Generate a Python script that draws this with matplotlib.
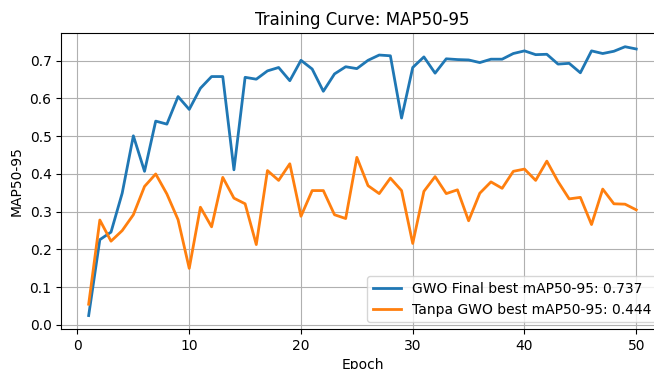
import numpy as np
import matplotlib
matplotlib.use("Agg")
import matplotlib.pyplot as plt

# epochs and per-epoch mAP50-95
epochs = np.arange(1, 51)

gwo_map = [0.025, 0.226, 0.246, 0.349, 0.501, 0.407, 0.540, 0.532, 0.605, 0.571,
           0.627, 0.658, 0.658, 0.411, 0.656, 0.651, 0.673, 0.682, 0.647, 0.701,
           0.678, 0.619, 0.665, 0.684, 0.679, 0.701, 0.715, 0.713, 0.548, 0.682,
           0.710, 0.667, 0.705, 0.703, 0.702, 0.695, 0.704, 0.704, 0.719, 0.726,
           0.716, 0.717, 0.691, 0.693, 0.668, 0.726, 0.719, 0.725, 0.737, 0.731]

tanpa_map = [0.055, 0.278, 0.222, 0.250, 0.292, 0.367, 0.400, 0.347, 0.279, 0.150,
             0.312, 0.260, 0.391, 0.336, 0.321, 0.213, 0.409, 0.383, 0.427, 0.288,
             0.356, 0.356, 0.292, 0.282, 0.444, 0.369, 0.348, 0.389, 0.356, 0.216,
             0.354, 0.393, 0.348, 0.358, 0.276, 0.349, 0.379, 0.362, 0.407, 0.413,
             0.383, 0.434, 0.380, 0.334, 0.338, 0.266, 0.360, 0.321, 0.320, 0.305]

labels = ["GWO Final best mAP50-95: %.3f" % max(gwo_map),
          "Tanpa GWO best mAP50-95: %.3f" % max(tanpa_map)]

fig = plt.figure(figsize=(6.54, 3.69), dpi=100)
# the reference is a crop of a wider figure, so the axes runs past the right edge
ax = fig.add_axes([0.0937, 0.1084, 0.921, 0.8014])

ax.plot(epochs, gwo_map, color="#1f77b4", linewidth=2, label=labels[0])
ax.plot(epochs, tanpa_map, color="#ff7f0e", linewidth=2, label=labels[1])

ax.set_title("Training Curve: MAP50-95", fontsize=12)
ax.set_xlabel("Epoch")
ax.set_ylabel("MAP50-95")
ax.set_yticks(np.arange(0, 0.71, 0.1))
ax.grid(True)
ax.legend(loc="lower right")

fig.savefig("out.png", dpi=100)
